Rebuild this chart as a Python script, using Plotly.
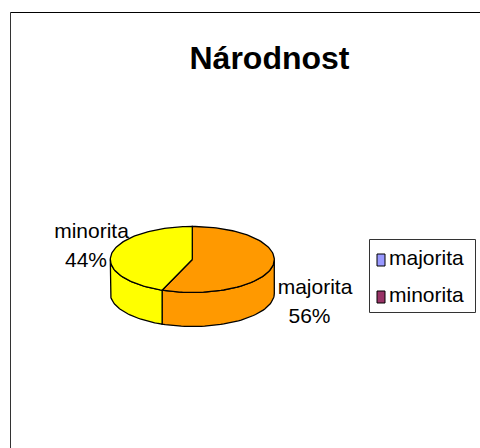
import math
import plotly.graph_objects as go

TITLE = "Národnost"
categories = ["majorita", "minorita"]
values = [56, 44]
slice_colors = ["#FF9900", "#FFFF00"]
legend_colors = ["#9999FF", "#993366"]

W, H = 480, 448
FONT = "Liberation Sans"
CX, CY, RX, RY, DEPTH = 192.3, 259.5, 82, 33, 34


def arc(a0, a1, dy=0.0, n=48):
    xs, ys = [], []
    for i in range(n + 1):
        a = math.radians(a0 + (a1 - a0) * i / n)
        xs.append(CX + RX * math.sin(a))
        ys.append(CY + dy - RY * math.cos(a))
    return xs, ys


def poly(xs, ys, color):
    return go.Scatter(x=xs, y=ys, mode="lines", fill="toself", fillcolor=color,
                      line=dict(color="#000000", width=1.3), hoverinfo="skip",
                      showlegend=False)


total = sum(values)
split = 360 * values[0] / total
fig = go.Figure()

# visible side walls, between the right and left extremes of the ellipse
for a0, a1, c in [(90, split, slice_colors[0]), (split, 270, slice_colors[1])]:
    tx, ty = arc(a0, a1)
    bx, by = arc(a1, a0, DEPTH)
    fig.add_trace(poly(tx + bx + tx[:1], ty + by + ty[:1], c))

# top faces
for a0, a1, c in [(0, split, slice_colors[0]), (split, 360, slice_colors[1])]:
    tx, ty = arc(a0, a1, n=96)
    fig.add_trace(poly([CX] + tx + [CX], [CY] + ty + [CY], c))

# data labels: name x, name y, percent x, percent y
label_pos = [(315, 289, 309.5, 318), (91.5, 233, 86, 262)]
for cat, v, (x1, y1, x2, y2) in zip(categories, values, label_pos):
    fig.add_trace(go.Scatter(x=[x1, x2], y=[y1, y2],
                             mode="text", text=[cat, f"{round(100 * v / total)}%"],
                             textposition="middle center",
                             textfont=dict(family=FONT, size=21, color="#000000"),
                             hoverinfo="skip", showlegend=False))

# frame and legend
shapes = [
    dict(type="line", x0=10.5, x1=10.5, y0=12.5, y1=H, line=dict(color="#333333", width=1)),
    dict(type="line", x0=10.5, x1=W, y0=12.5, y1=12.5, line=dict(color="#000000", width=1)),
    dict(type="rect", x0=369.5, x1=475.5, y0=239.5, y1=312.5, line=dict(color="#333333", width=1),
         fillcolor="#FFFFFF", layer="below"),
]
for cat, col, y in zip(categories, legend_colors, [259.5, 296.5]):
    shapes.append(dict(type="rect", x0=377, x1=385, y0=y - 5.5, y1=y + 6.5, fillcolor=col,
                       line=dict(color="#000000", width=1)))
    fig.add_trace(go.Scatter(x=[389], y=[y + 0.5], mode="text", text=[cat],
                             textposition="middle right",
                             textfont=dict(family=FONT, size=21, color="#000000"),
                             hoverinfo="skip", showlegend=False))

fig.add_trace(go.Scatter(x=[269.5], y=[60.5], mode="text", text=[f"<b>{TITLE}</b>"],
                         textposition="middle center",
                         textfont=dict(family=FONT, size=32, color="#000000"),
                         hoverinfo="skip", showlegend=False))

fig.update_layout(
    width=W, height=H, margin=dict(l=0, r=0, t=0, b=0),
    paper_bgcolor="#FFFFFF", plot_bgcolor="#FFFFFF", showlegend=False,
    shapes=shapes,
    xaxis=dict(range=[0, W], visible=False, fixedrange=True),
    yaxis=dict(range=[H, 0], visible=False, fixedrange=True),
)
fig.write_html("out.html", config=dict(displayModeBar=False),
               post_script="document.body.style.margin='0';document.body.style.overflow='hidden';")
